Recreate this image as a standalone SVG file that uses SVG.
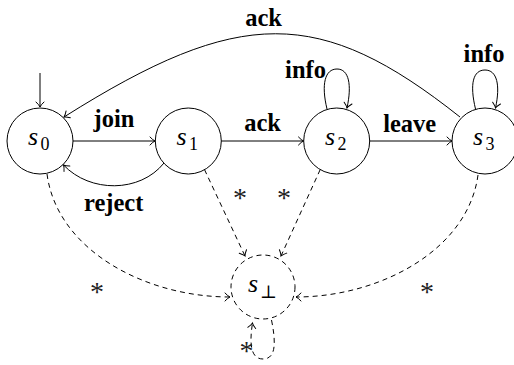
<svg xmlns="http://www.w3.org/2000/svg" width="514" height="365" viewBox="0 0 514 365">
  <style>
    .st { fill: none; stroke: #000; stroke-width: 1; }
    .edge { fill: none; stroke: #000; stroke-width: 1; }
    .dash { stroke-dasharray: 5 4; }
    .lbl { font-family: "Liberation Serif", "Times New Roman", serif; font-weight: bold; font-size: 24.5px; fill: #000; text-anchor: middle; }
    .m { font-family: "Liberation Serif", "Times New Roman", serif; font-style: italic; font-size: 26px; fill: #000; }
    .sub { font-style: normal; font-size: 18px; }
    .ast { font-family: "Liberation Serif", "Times New Roman", serif; font-size: 28px; fill: #222; text-anchor: middle; }
  </style>
  <defs>
    <marker id="to" markerUnits="userSpaceOnUse" markerWidth="12" markerHeight="12" viewBox="-6 -6 12 12" refX="0" refY="0" orient="auto" overflow="visible">
      <path d="M-5,-4 Q-2,-0.8 0,0 Q-2,0.8 -5,4" fill="none" stroke="#000" stroke-width="1" stroke-dasharray="none" stroke-linecap="round"/>
    </marker>
  </defs>

  <!-- states -->
  <g id="s0">
    <circle class="st" cx="40" cy="141" r="33"/>
    <text class="m" x="28" y="145">s<tspan class="sub" x="40.5" y="150">0</tspan></text>
  </g>
  <g id="s1">
    <circle class="st" cx="188.3" cy="141" r="33"/>
    <text class="m" x="176.5" y="145">s<tspan class="sub" x="189" y="150">1</tspan></text>
  </g>
  <g id="s2">
    <circle class="st" cx="336.7" cy="141" r="33"/>
    <text class="m" x="325" y="145">s<tspan class="sub" x="337.5" y="150">2</tspan></text>
  </g>
  <g id="s3">
    <circle class="st" cx="485" cy="141" r="33"/>
    <text class="m" x="473" y="145">s<tspan class="sub" x="485.5" y="150">3</tspan></text>
  </g>
  <g id="sbot">
    <circle class="st dash" cx="263" cy="287" r="32"/>
    <text class="m" x="248" y="292">s<tspan class="sub" x="260" y="298" font-family="DejaVu Serif, serif" font-size="16px">⊥</tspan></text>
  </g>

  <!-- transitions -->
  <g id="edges">
    <path class="edge" d="M40,73 L40,107" marker-end="url(#to)"/>
    <path class="edge" d="M73,141 L155,141" marker-end="url(#to)"/>
    <path class="edge" d="M221.3,141 L303.5,141" marker-end="url(#to)"/>
    <path class="edge" d="M369.7,141 L452,141" marker-end="url(#to)"/>
    <path class="edge" d="M460,117 C320,6 240,6 64,117" marker-end="url(#to)"/>
    <path class="edge" d="M164,163 C140,193 90,193 63.5,165" marker-end="url(#to)"/>
    <path class="edge" d="M327,109 C321,84 325,69 337,69 C349,69 352,85 347,108" marker-end="url(#to)"/>
    <path class="edge" d="M475.5,109 C469.5,84 473,70 485,70 C497,70 500.5,85 495.5,108" marker-end="url(#to)"/>

    <path class="edge dash" d="M47,174 C57,250 145,297 230,297" marker-end="url(#to)"/>
    <path class="edge dash" d="M204.5,169.6 L245,256" marker-end="url(#to)"/>
    <path class="edge dash" d="M320.2,169.6 L281,256" marker-end="url(#to)"/>
    <path class="edge dash" d="M478,175 C468,250 380,297 296,297" marker-end="url(#to)"/>
    <path class="edge dash" d="M271.5,320 C275.5,340 277,359 263,359 C250,359 249.5,342 252.5,323" marker-end="url(#to)"/>
  </g>

  <!-- labels -->
  <g id="labels">
    <text class="lbl" x="263.5" y="25.5">ack</text>
    <text class="lbl" x="114" y="127.3">join</text>
    <text class="lbl" x="262.5" y="131">ack</text>
    <text class="lbl" x="409.7" y="131.5">leave</text>
    <text class="lbl" x="113.7" y="211">reject</text>
    <text class="lbl" x="305.5" y="78">info</text>
    <text class="lbl" x="484" y="61.7">info</text>
    <text class="ast" x="240" y="207">*</text>
    <text class="ast" x="284" y="207">*</text>
    <text class="ast" x="97" y="301">*</text>
    <text class="ast" x="427" y="301">*</text>
    <text class="ast" x="246.5" y="360">*</text>
  </g>
</svg>
